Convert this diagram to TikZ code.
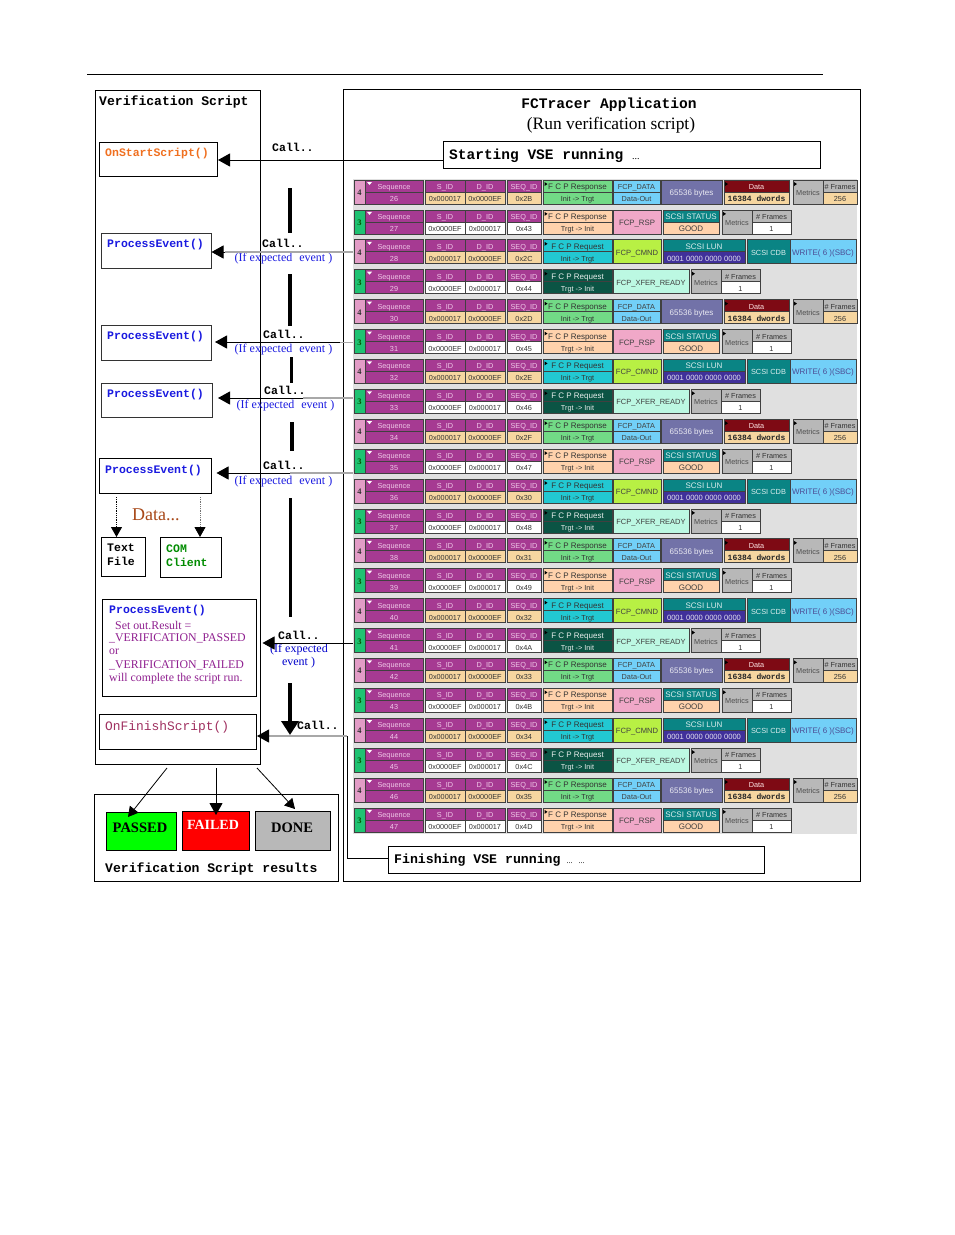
\documentclass[tikz,border=0pt]{standalone}
\usepackage{fontspec}
\setmainfont{Liberation Serif}
\setsansfont{Liberation Sans}
\setmonofont{Liberation Mono}
\usetikzlibrary{arrows.meta}
\definecolor{seqc}{HTML}{A63A92}
\definecolor{seqt}{HTML}{F0C8E8}
\definecolor{tan}{HTML}{F6D6A0}
\definecolor{peach}{HTML}{FFD2AC}
\definecolor{pinkn}{HTML}{E29CC6}
\definecolor{greenn}{HTML}{1FC272}
\definecolor{respg}{HTML}{72DA86}
\definecolor{reqc}{HTML}{22C8D2}
\definecolor{reqd}{HTML}{0B5444}
\definecolor{skyb}{HTML}{72D0F8}
\definecolor{slate}{HTML}{7272A8}
\definecolor{dred}{HTML}{7E0A14}
\definecolor{greym}{HTML}{B8B8B8}
\definecolor{rspp}{HTML}{F0A8C8}
\definecolor{teal2}{HTML}{0A8484}
\definecolor{lime2}{HTML}{B8F044}
\definecolor{viol}{HTML}{40309A}
\definecolor{mint}{HTML}{BCF8E2}
\definecolor{panel}{HTML}{E0E0E0}
\definecolor{linegrey}{HTML}{A8A8A8}
\definecolor{orng}{HTML}{F07020}
\definecolor{blu}{HTML}{1A1AE0}
\definecolor{purp}{HTML}{902090}
\definecolor{brownt}{HTML}{A84818}
\definecolor{finc}{HTML}{A03060}
\newcommand\szs[1]{\fontsize{#1}{#1}\selectfont}
\newcommand\cell[8]{\node[cellbox,fill=#6,text=#7,minimum width=#4pt,minimum height=#5pt] (#1) at ({#2+#4/2},{#3+#5/2}) {#8};}
\newcommand\wtri{\fill[white] (367,2)--(372,2)--(369.5,5)--cycle;}
\newcommand\ktri[1]{\fill[black] (#1,2)--(#1,6)--({#1+3},4)--cycle;}
\newcommand\commonrow[8]{%
 % id num numfill sid did seqid bottomfill numtext
 \cell{n#1}{354}{0}{11}{24}{#3}{#8}{\bfseries\rmfamily\szs{8.5}#2}
 \cell{seqh#1}{365}{0}{58}{12}{seqc}{seqt}{Sequence}
 \cell{seqv#1}{365}{12}{58}{12}{seqc}{seqt}{#1}
 \wtri
 \cell{sidh#1}{425}{0}{40}{12}{seqc}{seqt}{S\_ID}
 \cell{didh#1}{465}{0}{40}{12}{seqc}{seqt}{D\_ID}
 \cell{sidv#1}{425}{12}{40}{12}{#7}{black!80}{#4}
 \cell{didv#1}{465}{12}{40}{12}{#7}{black!80}{#5}
 \cell{sqh#1}{507}{0}{34}{12}{seqc}{seqt}{SEQ\_ID}
 \cell{sqv#1}{507}{12}{34}{12}{#7}{black!80}{#6}
}
\newcommand\fcpcell[5]{%
 % id label fill textcol dir
 \cell{fh#1}{543}{0}{69}{12}{#3}{#4}{\szs{8}#2}
 \cell{fv#1}{543}{12}{69}{12}{#3}{#4}{#5}
 \ktri{544.5}
}
\newcommand\metr[5]{%
 % id x tail fill value
 \cell{me#1}{#2}{0}{30}{24}{greym}{black!70}{Metrics}
 \ktri{#2+1}
 \cell{frh#1}{#2+30}{0}{#3}{12}{greym}{black!80}{\# Frames}
 \cell{frv#1}{#2+30}{12}{#3}{12}{#4}{black!80}{#5}
}
\newcommand\rowdata[2]{%
 \commonrow{#1}{4}{pinkn}{0x000017}{0x0000EF}{#2}{tan}{black!80}
 \fcpcell{#1}{F C P Response}{respg}{black!80}{Init -> Trgt}
 \cell{a#1}{613}{0}{47}{12}{skyb}{black!75}{FCP\_DATA}
 \cell{b#1}{613}{12}{47}{12}{skyb}{black!75}{Data-Out}
 \cell{c#1}{661}{0}{61}{24}{slate}{white!85!slate}{\szs{8}65536 bytes}
 \cell{dh#1}{724}{0}{65}{12}{dred}{white!90!red}{Data}
 \cell{dv#1}{724}{12}{65}{12}{tan}{black!85}{\ttfamily\bfseries\szs{8}16384 dwords}
 \ktri{725}
 \metr{#1}{793}{34}{tan}{256}
}
\newcommand\rowrsp[2]{%
 \commonrow{#1}{3}{greenn}{0x0000EF}{0x000017}{#2}{white}{green!35!black}
 \fcpcell{#1}{F C P Response}{peach}{black!80}{Trgt -> Init}
 \cell{a#1}{613}{0}{48}{24}{rspp}{black!75}{\szs{7.8}FCP\_RSP}
 \cell{sth#1}{663}{0}{56}{12}{teal2}{white!85!teal2}{\szs{8}SCSI STATUS}
 \cell{stv#1}{663}{12}{56}{12}{peach}{black!75}{\szs{8}GOOD}
 \metr{#1}{722}{39}{white}{1}
}
\newcommand\rowcmd[2]{%
 \commonrow{#1}{4}{pinkn}{0x000017}{0x0000EF}{#2}{tan}{black!80}
 \fcpcell{#1}{F C P Request}{reqc}{black!80}{Init -> Trgt}
 \cell{a#1}{613}{0}{48}{24}{lime2}{black!75}{\szs{7.6}FCP\_CMND}
 \cell{lh#1}{663}{0}{82}{12}{teal2}{white!85!teal2}{\szs{8}SCSI LUN}
 \cell{lv#1}{663}{12}{82}{12}{viol}{white!85!viol}{\szs{7.6}0001 0000 0000 0000}
 \cell{cd#1}{747}{0}{43}{24}{teal2}{white!85!teal2}{\szs{7.4}SCSI CDB}
 \cell{wr#1}{790}{0}{66}{24}{skyb}{blue!40!black!70}{\szs{8}WRITE( 6 )(SBC)}
}
\newcommand\rowxfr[2]{%
 \commonrow{#1}{3}{greenn}{0x0000EF}{0x000017}{#2}{white}{green!35!black}
 \fcpcell{#1}{F C P Request}{reqd}{white!90!reqd}{Trgt -> Init}
 \cell{a#1}{613}{0}{76}{24}{mint}{black!75}{\szs{7.5}FCP\_XFER\_READY}
 \metr{#1}{691}{39}{white}{1}
}
\tikzset{
 cellbox/.style={draw=black!75,line width=.7pt,inner sep=0pt,font=\sffamily\szs{7.3},text height=7pt,text depth=0pt},
 box/.style={draw=black,line width=1pt,fill=white,inner sep=0pt,anchor=north west},
 mlabel/.style={anchor=west,inner sep=0pt,font=\ttfamily\bfseries\szs{13.1}},
 fnlabel/.style={anchor=west,inner sep=0pt,font=\ttfamily\bfseries\szs{11.5}},
 calltxt/.style={anchor=west,inner sep=0pt,font=\ttfamily\bfseries\szs{11.5}},
 iftxt/.style={anchor=center,inner sep=0pt,text=blu,font=\szs{12}},
 vbar/.style={line width=3.6pt,black},
 arr/.style={-{Triangle[length=12pt,width=13pt]},line width=1pt},
 thin arr/.style={-{Triangle[length=10pt,width=11pt,color=black]},line width=.8pt},
 res/.style={draw=black,line width=1pt,inner sep=0pt,anchor=north west,font=\bfseries\szs{14.5}},
 purptxt/.style={anchor=west,inner sep=0pt,text=purp,font=\szs{11.85}},
}
\begin{document}
\begin{tikzpicture}[x=1pt,y=-1pt]
\useasboundingbox (0,0) rectangle (954,1235);
\fill[white] (0,0) rectangle (954,1235);
\coordinate (ruleL) at (87,74); \coordinate (ruleR) at (823,74);
\draw[line width=.7pt] (ruleL) -- (ruleR);

% panels
\node[box,minimum width=165pt,minimum height=674pt] (script) at (95,90) {};
\node[box,minimum width=517.5pt,minimum height=792pt] (app) at (342.5,89) {};
\fill[panel] (353,179) rectangle (857,834);
\node[mlabel] (sct) at (99,102) {Verification Script};
\node[anchor=center,inner sep=0pt,font=\ttfamily\bfseries\szs{14.6}] (t1) at (609,105) {FCTracer Application};
\node[anchor=center,inner sep=0pt,font=\szs{17.4}] (t2) at (611,125) {(Run verification script)};

% message rows
\foreach \s/\q [count=\k from 0] in {26/0x2B,27/0x43,28/0x2C,29/0x44,30/0x2D,31/0x45,32/0x2E,33/0x46,34/0x2F,35/0x47,36/0x30,37/0x48,38/0x31,39/0x49,40/0x32,41/0x4A,42/0x33,43/0x4B,44/0x34,45/0x4C,46/0x35,47/0x4D}{
 \pgfmathsetmacro\yy{180+29.9*\k}
 \pgfmathtruncatemacro\ty{mod(\k,4)}
 \begin{scope}[shift={(0,\yy)}]
 \ifcase\ty \rowdata{\s}{\q}\or \rowrsp{\s}{\q}\or \rowcmd{\s}{\q}\or \rowxfr{\s}{\q}\fi
 \end{scope}
}

% info boxes
\node[box,minimum width=377pt,minimum height=27pt] (start) at (443,141) {};
\node[anchor=west,inner sep=0pt] (startt) at (449,156) {\ttfamily\bfseries\szs{14.5}Starting VSE running\hspace{9pt}\rmfamily\mdseries\szs{10}...};
\node[box,minimum width=376pt,minimum height=27pt] (finish) at (388,846) {};
\node[anchor=west,inner sep=0pt] (finisht) at (394,860.5) {\ttfamily\bfseries\szs{13.2}Finishing VSE running\hspace{6pt}\rmfamily\mdseries\szs{8}...\hspace{6pt}...};

% script boxes
\node[box,minimum width=118pt,minimum height=34pt] (onstart) at (99,142) {};
\node[fnlabel,text=orng] (onstartt) at (105,154) {OnStartScript()};
\node[box,minimum width=109.5pt,minimum height=34.5pt,draw=black!80] (pe1) at (101,233) {};
\node[fnlabel,text=blu] (pe1t) at (107,245) {ProcessEvent()};
\node[box,minimum width=110pt,minimum height=35pt,draw=black!80] (pe2) at (101,325) {};
\node[fnlabel,text=blu] (pe2t) at (107,337) {ProcessEvent()};
\node[box,minimum width=111pt,minimum height=34pt,draw=black!80] (pe3) at (101,383) {};
\node[fnlabel,text=blu] (pe3t) at (107,395) {ProcessEvent()};
\node[box,minimum width=111.5pt,minimum height=35pt] (pe4) at (99,458) {};
\node[fnlabel,text=blu] (pe4t) at (105,471) {ProcessEvent()};
\node[box,minimum width=44pt,minimum height=39pt] (txtf) at (101,537) {};
\node[anchor=north west,inner sep=0pt,align=left,font=\ttfamily\bfseries\szs{11.5}] (txtft) at (107,544) {Text\\[2.5pt]File};
\node[box,minimum width=61pt,minimum height=40pt] (com) at (160,537) {};
\node[anchor=north west,inner sep=0pt,align=left,text={green!55!black},font=\ttfamily\bfseries\szs{11.5}] (comt) at (166,544.5) {COM\\[2.5pt]Client};
\node[anchor=west,inner sep=0pt,text=brownt,font=\szs{18}] (data) at (132,515) {Data...};
\node[box,minimum width=154pt,minimum height=97pt] (pe5) at (102,599) {};
\node[fnlabel,text=blu] (pe5t) at (109,611) {ProcessEvent()};
\node[purptxt] (v1) at (115,625) {Set out.Result =};
\node[purptxt] (v2) at (109,638) {\_VERIFICATION\_PASSED};
\node[purptxt] (v3) at (109,651.5) {or};
\node[purptxt] (v4) at (109,665) {\_VERIFICATION\_FAILED};
\node[purptxt] (v5) at (109,678.5) {will complete the script run.};
\node[box,minimum width=157pt,minimum height=35pt] (onfin) at (99,714) {};
\node[anchor=west,inner sep=0pt,text=finc,font=\ttfamily\szs{12.9}] (onfint) at (105,727.5) {OnFinishScript()};

% results
\node[box,minimum width=244pt,minimum height=87pt] (results) at (94,794) {};
\node[res,fill=green,minimum width=70pt,minimum height=38pt] (passed) at (106,812) {};
\node[inner sep=0pt,font=\bfseries\szs{14.5}] (passedt) at (140,828) {PASSED};
\node[res,fill=red,minimum width=67pt,minimum height=39pt] (failed) at (182,811) {};
\node[inner sep=0pt,text=white,font=\bfseries\szs{14}] (failedt) at (213,825) {FAILED};
\node[res,fill=greym,minimum width=75pt,minimum height=39pt] (done) at (255,811) {};
\node[inner sep=0pt,font=\bfseries\szs{14.5}] (donet) at (292,828) {DONE};
\node[mlabel] (rest) at (105,869) {Verification Script results};

% call labels
\node[calltxt] (c0) at (272,147.5) {Call..};
\node[calltxt] (c1) at (262,243.5) {Call..};
\node[iftxt] (i1) at (283.5,258.5) {(If expected\,\, event )};
\node[calltxt] (c2) at (263,334.5) {Call..};
\node[iftxt] (i2) at (283.5,349.5) {(If expected\,\, event )};
\node[calltxt] (c3) at (264,390.5) {Call..};
\node[iftxt] (i3) at (285.5,405.5) {(If expected\,\, event )};
\node[calltxt] (c4) at (263,465.5) {Call..};
\node[iftxt] (i4) at (283.5,481.5) {(If expected\,\, event )};
\node[calltxt] (c5) at (278,635.5) {Call..};
\node[iftxt,text={blue!80!black}] (i5) at (299,649.5) {(If expected};
\node[iftxt,text={blue!80!black}] (i6) at (298.5,663) {event )};
\node[calltxt] (c6) at (297,725.5) {Call..};

% connectors
\coordinate (s0) at (443,160);
\coordinate (s1) at (353,252); \coordinate (s1m) at (225,252);
\coordinate (s2) at (353,342); \coordinate (s2m) at (340,342);
\coordinate (s3) at (353,398); \coordinate (s3m) at (303,398);
\coordinate (s4) at (353,473); \coordinate (s4m) at (290,473);
\coordinate (s5) at (353,643);
\draw[arr] (s0) -- (s0 -| onstart.east);
\draw[linegrey,line width=1.5pt] (s1) -- (s1m);
\draw[arr] (s1m) -- (s1 -| pe1.east);
\draw[linegrey,line width=1pt] (s2) -- (s2m);
\draw[arr] (s2m) -- ([xshift=3pt]s2 -| pe2.east);
\draw[linegrey,line width=1.2pt] (s3) -- (s3m);
\draw[arr] (s3m) -- ([xshift=5pt]s3 -| pe3.east);
\draw[linegrey,line width=1.2pt] (s4) -- (s4m);
\draw[arr] (s4m) -- ([xshift=5pt]s4 -| pe4.east);
\draw[arr] (s5) -- ([xshift=5.5pt]s5 -| pe5.east);
% finish line
\coordinate (fc) at (347,736); \coordinate (fb) at (347,858); \coordinate (fm) at (266,736);
\draw[line width=.9pt] (finish.west |- fb) -- (fb) -- (fc);
\draw[linegrey,line width=1.2pt] (fc) -- (fm);
\draw[arr] (fm) -- (fm -| onfin.east);
% vertical bars
\foreach \xa/\ya/\yb [count=\b] in {290/188/233,290/274/326,291.5/357/383,292/422/451,290.5/498/617}{
 \coordinate (bt\b) at (\xa,\ya); \coordinate (bb\b) at (\xa,\yb);
 \draw[vbar] (bt\b) -- (bb\b);
}
\coordinate (bt6) at (290,683); \coordinate (bb6) at (290,735);
\draw[line width=3.6pt,-{Triangle[length=14pt,width=17pt]}] (bt6) -- (bb6);
% data arrows
\coordinate (d1) at (116.5,497); \coordinate (d2) at (200,497);
\draw[thin arr,densely dotted] (d1) -- (d1 |- txtf.north);
\draw[thin arr,densely dotted,draw=black!55] (d2) -- (d2 |- com.north);
% result arrows
\coordinate (ra) at (167,768); \coordinate (rb) at (216,768); \coordinate (rc) at (257,768);
\coordinate (rae) at (128,817); \coordinate (rbe) at (216,815); \coordinate (rce) at (295,809);
\draw[thin arr] (ra) -- (rae);
\draw[arr] (rb) -- (rbe);
\draw[thin arr] (rc) -- (rce);
\end{tikzpicture}
\end{document}
